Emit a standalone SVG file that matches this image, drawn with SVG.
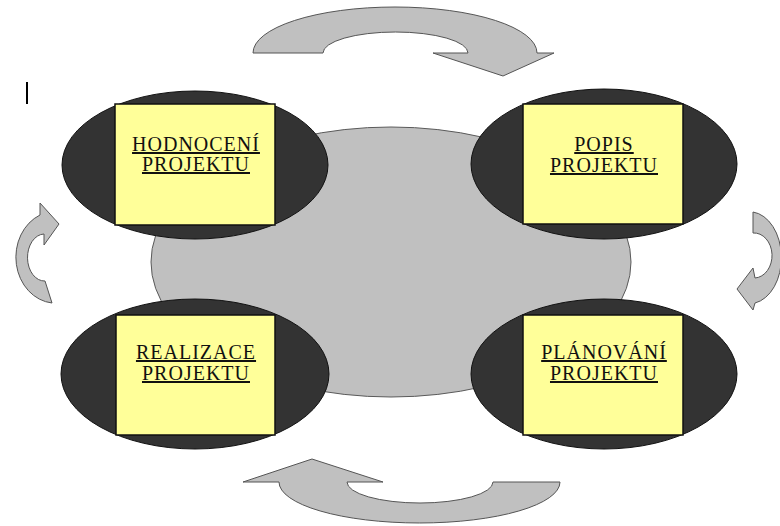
<svg xmlns="http://www.w3.org/2000/svg" width="780" height="526" viewBox="0 0 780 526">
  <style>
    .hub { fill: #c0c0c0; stroke: #5a5a5a; stroke-width: 1; }
    .ring { fill: #333333; stroke: #111111; stroke-width: 1; }
    .card { fill: #ffff99; stroke: #111111; stroke-width: 1.5; }
    .label { font-family: "Liberation Serif", "Times New Roman", serif; font-size: 20px; fill: #111111; text-anchor: middle; letter-spacing: 1px; text-decoration: underline; }
    .cycle { fill: #c0c0c0; stroke: #555555; stroke-width: 1; stroke-linejoin: miter; }
  </style>

  <rect width="780" height="526" fill="#ffffff"/>

  <!-- text cursor mark -->
  <rect x="26" y="82" width="2" height="22" fill="#000000"/>

  <!-- central hub -->
  <ellipse id="hub" class="hub" cx="391" cy="262" rx="240" ry="135"/>

  <!-- curved cycle arrows -->
  <g id="connectors">
    <path class="cycle" d="M253,53 A142,46 0 0 1 537,53 L554,53 L503,76 L433,53 L468,53 A72.5,21 0 0 0 323,53 Z"/>
    <path class="cycle" d="M753,212 A32,46 0 0 1 755,303 L753,310 L737,289 L753,268 L755,278 A18,22.5 0 0 0 753,233 Z"/>
    <path class="cycle" d="M243,482 L312,459 L383,482 L347,482 A73,21 0 0 0 493,482 L560,482 A140.5,41 0 0 1 279,482 Z"/>
    <path class="cycle" d="M52,303 A40,46 0 0 1 40,215 L40,203 L59,224 L44,245 L44,234 A17,23.5 0 0 0 45,281 Z"/>
  </g>

  <g id="hodnoceni">
    <ellipse class="ring" cx="195" cy="165" rx="133" ry="74"/>
    <rect class="card" x="115" y="104" width="160" height="121"/>
    <text class="label" x="196" y="151">HODNOCENÍ</text>
    <text class="label" x="196" y="171">PROJEKTU</text>
  </g>

  <g id="popis">
    <ellipse class="ring" cx="604" cy="164" rx="133" ry="75"/>
    <rect class="card" x="523" y="104" width="160" height="120"/>
    <text class="label" x="604" y="151">POPIS</text>
    <text class="label" x="604" y="172">PROJEKTU</text>
  </g>

  <g id="realizace">
    <ellipse class="ring" cx="195" cy="374" rx="134" ry="75"/>
    <rect class="card" x="116" y="315" width="159" height="120"/>
    <text class="label" x="196" y="359">REALIZACE</text>
    <text class="label" x="196" y="380">PROJEKTU</text>
  </g>

  <g id="planovani">
    <ellipse class="ring" cx="604" cy="374" rx="133" ry="75"/>
    <rect class="card" x="523" y="315" width="160" height="120"/>
    <text class="label" x="604" y="359">PLÁNOVÁNÍ</text>
    <text class="label" x="604" y="380">PROJEKTU</text>
  </g>
</svg>
